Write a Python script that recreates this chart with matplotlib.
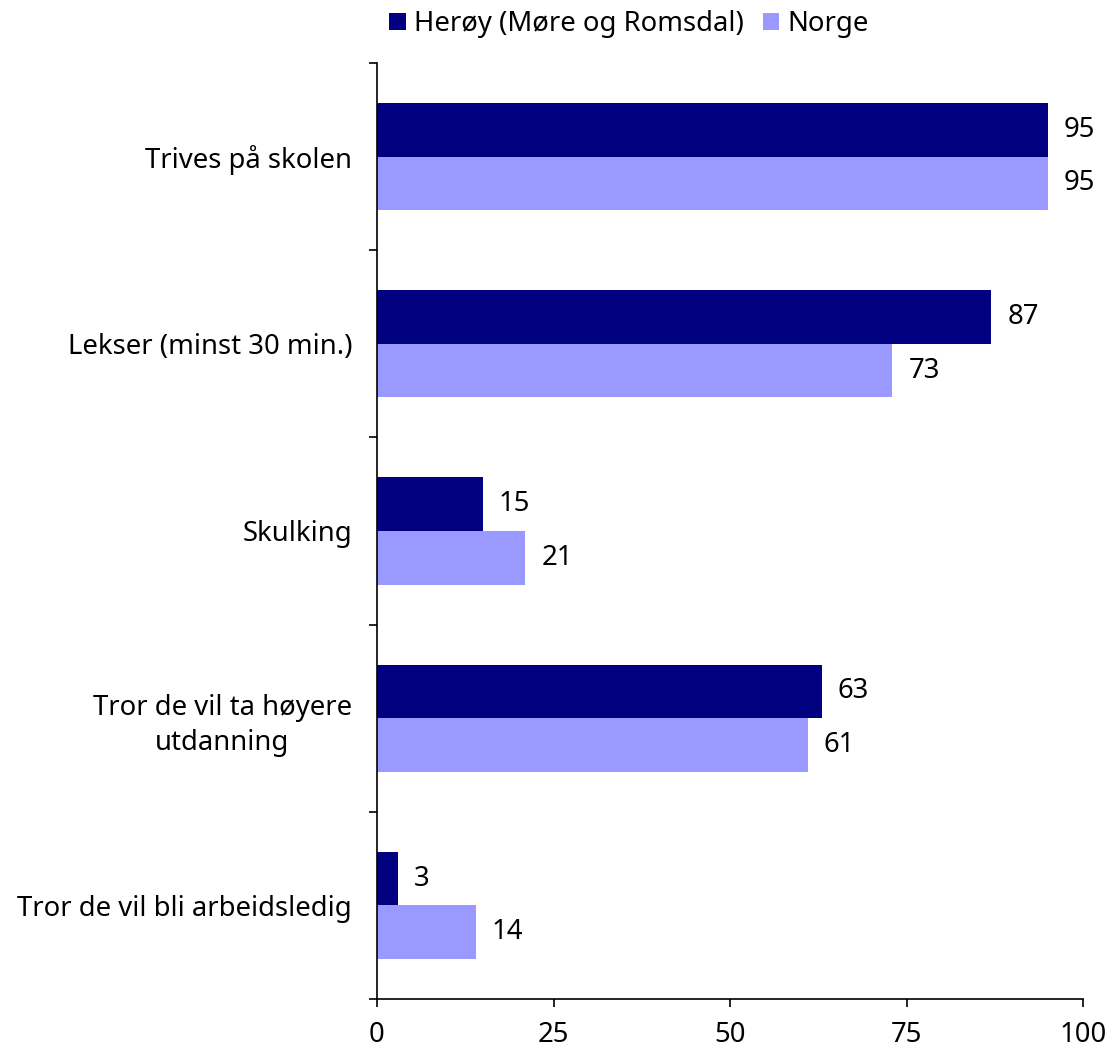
import matplotlib
matplotlib.use("Agg")
import matplotlib.pyplot as plt
import numpy as np

categories = ["Trives på skolen", "Lekser (minst 30 min.)", "Skulking",
              "Tror de vil ta høyere\nutdanning", "Tror de vil bli arbeidsledig"]
series_names = ["Herøy (Møre og Romsdal)", "Norge"]
heroy = [95, 87, 15, 63, 3]
norge = [95, 73, 21, 61, 14]
xticks = [0, 25, 50, 75, 100]

colors = ["#000080", "#9999FF"]
plt.rcParams['font.family'] = ['Noto Sans', 'DejaVu Sans']
FS = 19.8

fig = plt.figure(figsize=(11.13, 10.53), dpi=100)
ax = fig.add_axes([377/1113, 54/1053, (1083-377)/1113, (999-63)/1053])

y = np.arange(len(categories))
h = 0.286
b1 = ax.barh(y - h/2, heroy, height=h, color=colors[0], label=series_names[0])
b2 = ax.barh(y + h/2, norge, height=h, color=colors[1], label=series_names[1])
for bars, vals in ((b1, heroy), (b2, norge)):
    for bar, v in zip(bars, vals):
        ax.annotate(f"{v}", (bar.get_width(), bar.get_y() + bar.get_height()/2),
                    xytext=(11.5, 0), textcoords="offset points", va="center", ha="left",
                    fontsize=FS)

ax.set_xlim(0, 100)
ax.set_ylim(len(categories) - 0.5, -0.5)
ax.set_xticks(xticks)
ax.set_xticklabels([str(t) for t in xticks], fontsize=FS)
ax.set_yticks(np.arange(len(categories) + 1) - 0.5)
ax.set_yticklabels([])
ax.set_yticks(y, minor=True)
ax.set_yticklabels(categories, minor=True, fontsize=FS, multialignment="center",
                   linespacing=1.35)
ax.tick_params(axis="y", which="minor", length=0, pad=18)
ax.tick_params(axis="y", which="major", length=6, width=1.2, direction="out")
ax.tick_params(axis="x", length=6, width=1.2, direction="out", pad=10)
for s in ["top", "right"]:
    ax.spines[s].set_visible(False)
for s in ["left", "bottom"]:
    ax.spines[s].set_linewidth(1.2)

fig.legend(handles=[b1, b2], loc="upper center", bbox_to_anchor=(629/1113, 1.014),
           ncol=2, frameon=False, fontsize=FS, handlelength=0.6, handleheight=0.6,
           handletextpad=0.3, columnspacing=0.7)

fig.savefig("out.png", dpi=100)
